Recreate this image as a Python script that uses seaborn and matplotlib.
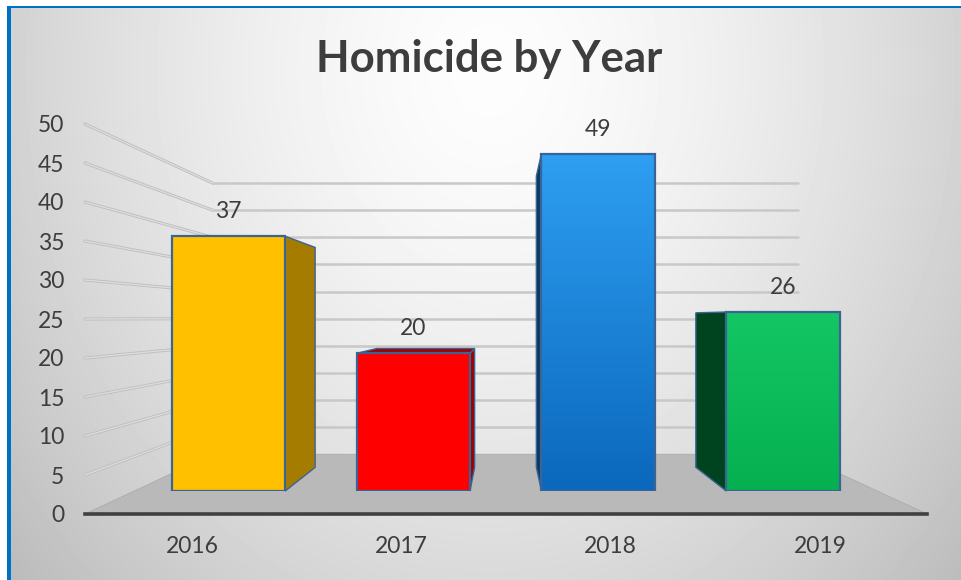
import numpy as np
import pandas as pd
import matplotlib
matplotlib.use("Agg")
import matplotlib.pyplot as plt
from matplotlib.colors import LinearSegmentedColormap, to_rgb
from matplotlib.patches import Polygon
import seaborn as sns

years = ["2016", "2017", "2018", "2019"]
homicides = [37, 20, 49, 26]
y_ticks = [0, 5, 10, 15, 20, 25, 30, 35, 40, 45, 50]
front_colors = ["#FFC000", "#FF0000", "#1F8AE0", "#0BBB5C"]
side_colors = ["#A67C00", "#A00000", "#0A3A63", "#00441F"]
gradient_tops = [None, None, "#2E9FF2", "#14C664"]
gradient_bottoms = [None, None, "#0B68BC", "#05B050"]
title = "Homicide by Year"

W, H = 961, 580
VP = np.array([504.0, 318.0])      # vanishing point of the 3D look
FLOOR_BACK = 0.305                 # depth of the back wall
BAR_FRONT = 0.117                  # depth of the bars' front faces
BAR_DEPTH = 0.137                  # depth of the bars themselves
TEXT = "#3D3D3D"
EDGE = "#3A6496"


def project(p, f):
    p = np.asarray(p, dtype=float)
    return p + (VP - p) * f


def axes_rect(x0, x1, y_bottom, y_top):
    return [x0 / W, 1 - y_bottom / H, (x1 - x0) / W, (y_bottom - y_top) / H]


sns.set_theme(style="white")
plt.rcParams["font.family"] = ["Lato", "DejaVu Sans"]

fig = plt.figure(figsize=(W / 100, H / 100), dpi=100, facecolor="white")

# pixel canvas for background, floor and wall lines
bg = fig.add_axes([0, 0, 1, 1], zorder=0)
bg.axis("off")

xx, yy = np.meshgrid(np.arange(W), np.arange(H))
r = np.hypot((xx - 490) / 600, (yy - 70) / 720)
shade = 253 - 60 * r ** 1.5
bg.imshow(np.clip(shade, 0, 255) / 255, cmap="gray", vmin=0, vmax=1,
          extent=[0, W, H, 0], aspect="auto", zorder=0)
bg.set_xlim(0, W)
bg.set_ylim(H, 0)
bg.fill_between([0, W], 0, 6, color="white", zorder=1, lw=0)
bg.fill_between([0, 7], 0, H, color="white", zorder=1, lw=0)
bg.fill_between([7, W], 6, 8.3, color="#0070C0", zorder=2, lw=0)
bg.fill_between([7, 11], 6, H, color="#0070C0", zorder=2, lw=0)

# front plane: value axis and year labels
FX0, FX1, FY0, FY1 = 85, 927, 514, 124
ax = fig.add_axes(axes_rect(FX0, FX1, FY0, FY1), zorder=1)
ax.patch.set_alpha(0)
xlim = ((FX0 - 192) / 209.3, (FX1 - 192) / 209.3)
ax.set_xlim(*xlim)
ax.set_ylim(0, 50)
ax.set_xticks(range(len(years)), years)
ax.set_yticks(y_ticks)
ax.tick_params(axis="x", length=0, pad=15.5, labelsize=16.5, labelcolor=TEXT)
ax.tick_params(axis="y", length=0, pad=15, labelsize=16.5, labelcolor=TEXT)
for side in ["left", "top", "right"]:
    ax.spines[side].set_visible(False)
ax.spines["bottom"].set_color("#404040")
ax.spines["bottom"].set_linewidth(2.6)
ax.spines["bottom"].set_zorder(5)


def to_px(axes, pts):
    return bg.transData.inverted().transform(axes.transData.transform(pts))


# floor
fl, fr = to_px(ax, [(xlim[0], 0), (xlim[1], 0)])
bg.add_patch(Polygon([fl, fr, project(fr, FLOOR_BACK), project(fl, FLOOR_BACK)],
                     closed=True, facecolor="#B9B9B9", edgecolor="#A8A8A8", lw=0.5, zorder=3))

# wall lines
for v in y_ticks[1:]:
    a, b = to_px(ax, [(xlim[0], v), (xlim[1], v)])
    pa, pb = project(a, FLOOR_BACK), project(b, FLOOR_BACK)
    xs = [a[0], pa[0]]
    ys = [a[1], pa[1]]
    bg.plot(xs, ys, color="#BDBDBD", lw=2.2, solid_capstyle="round", zorder=3)
    bg.plot(xs, ys, color="#DCDCDC", lw=1.0, solid_capstyle="round", zorder=3.1)
    bg.plot([pa[0], pb[0]], [pa[1], pb[1]], color="#C8C8C8", lw=1.8, zorder=3)

# bar plane
p0 = project((FX0, FY0), BAR_FRONT)
p1 = project((FX1, FY1), BAR_FRONT)
bar_ax = fig.add_axes(axes_rect(p0[0], p1[0], p0[1], p1[1]), zorder=2)
bar_ax.patch.set_alpha(0)
df = pd.DataFrame({"year": years, "count": homicides})
sns.barplot(data=df, x="year", y="count", hue="year", palette=front_colors,
            saturation=1, width=0.613, legend=False, ax=bar_ax,
            edgecolor=EDGE, linewidth=1.6)
bar_ax.set_xlim(*xlim)
bar_ax.set_ylim(0, 50)
bar_ax.axis("off")

for i, patch in enumerate(list(bar_ax.patches)):
    x0, x1 = patch.get_x(), patch.get_x() + patch.get_width()
    h = patch.get_height()
    (lb, rb, lt, rt) = to_px(bar_ax, [(x0, 0), (x1, 0), (x0, h), (x1, h)])
    faces = []
    if rb[0] < VP[0]:
        faces.append([rb, rt, project(rt, BAR_DEPTH), project(rb, BAR_DEPTH)])
    if lb[0] > VP[0]:
        faces.append([lb, lt, project(lt, BAR_DEPTH), project(lb, BAR_DEPTH)])
    if lt[1] > VP[1]:
        faces.append([lt, rt, project(rt, BAR_DEPTH), project(lt, BAR_DEPTH)])
    for face in faces:
        bar_ax.add_patch(Polygon(face, closed=True, transform=bg.transData, clip_on=False,
                                 facecolor=side_colors[i], edgecolor=EDGE, lw=1.0, zorder=0.9))
    if gradient_tops[i]:
        c0, c1 = np.array(to_rgb(gradient_bottoms[i])), np.array(to_rgb(gradient_tops[i]))
        cmap = LinearSegmentedColormap.from_list("g", [c0, c1])
        im = bar_ax.imshow(np.linspace(1, 0, 128).reshape(-1, 1), cmap=cmap, vmin=0, vmax=1,
                           extent=[x0, x1, 0, h], aspect="auto", zorder=1.0)
        im.set_clip_path(patch)
        patch.set_facecolor("none")
        patch.set_zorder(1.5)
bar_ax.set_xlim(*xlim)
bar_ax.set_ylim(0, 50)

for container in bar_ax.containers:
    bar_ax.bar_label(container, padding=10, fontsize=16.5, color=TEXT)

fig.text(489 / W, 1 - 59 / H, title, ha="center", va="center",
         fontsize=31.5, fontweight="bold", color=TEXT)

fig.savefig("out.png", dpi=100)
